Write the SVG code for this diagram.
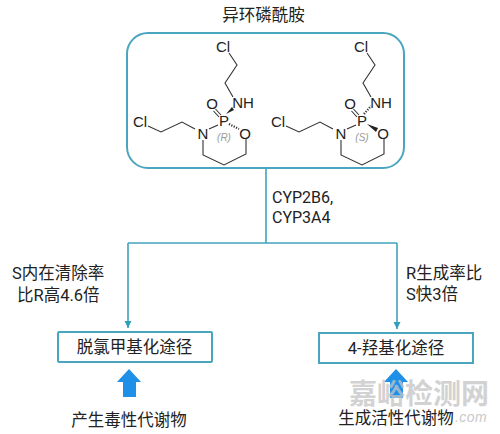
<svg xmlns="http://www.w3.org/2000/svg" width="500" height="434" viewBox="0 0 500 434">
<style>
text{font-family:Roboto,"Noto Sans CJK SC",sans-serif;fill:#222}
.lab{font-size:16.500px}
.cn{font-size:16.500px;text-anchor:middle}
.atom{font-family:"Liberation Sans",Arial,sans-serif;font-size:15px;text-anchor:middle;fill:#222}
.st{font-family:"Liberation Sans",Arial,sans-serif;font-size:10px;font-style:italic;text-anchor:middle;fill:#999}
.bond{fill:none;stroke:#333;stroke-width:1.1}
.box{fill:#fff;stroke:#4aa5bf;stroke-width:2}
.conn{fill:none;stroke:#3fa3bd;stroke-width:1.6}
.wm{fill:#c4c4c4;font-weight:700}
</style>
<defs>
<marker id="ah" markerUnits="userSpaceOnUse" markerWidth="8" markerHeight="8" refX="7" refY="4" orient="auto"><path d="M0 0.500L7 4L0 7.500z" fill="#2f9fbb"/></marker>
<g id="mol">
<path class="bond" d="M229 53L237 65L225 83L233 97"/>
<path class="bond" d="M148 126L161 132L182 122L195 129"/>
<path class="bond" d="M209 129L218 125"/>
<path class="bond" d="M203 140V155L224 165L246 154V139"/>
<path class="bond" d="M215.500 109L221 115M213.500 111L219 117"/>
</g>
</defs>
<text class="cn" x="263.500" y="21">异环磷酰胺</text>
<g id="connectors">
<path class="conn" d="M266 168V243"/>
<path class="conn" d="M128 243H397"/>
<path class="conn" d="M128 243V328" marker-end="url(#ah)"/>
<path class="conn" d="M397 243V329" marker-end="url(#ah)"/>
</g>
<g id="isophosphamide"><rect class="box" x="127" y="33" width="277" height="135" rx="21" ry="21"/></g>
<g id="mol-r">
<use href="#mol"/>
<path d="M226 114L232 107L234 110z" fill="#222"/>
<path class="bond" stroke-dasharray="1.200 1.400" d="M229 124L239 129" style="stroke-width:2.200"/>
<text class="atom" x="223" y="52">Cl</text><text class="atom" x="243" y="108">NH</text><text class="atom" x="212" y="109">O</text>
<text class="atom" x="224" y="126">P</text><text class="atom" x="203" y="139">N</text><text class="atom" x="245" y="139">O</text><text class="atom" x="140" y="127">Cl</text>
<text class="st" x="224" y="141">(R)</text>
</g>
<g id="mol-s">
<use href="#mol" x="138"/>
<path class="bond" stroke-dasharray="1.200 1.400" d="M364 114L371 106" style="stroke-width:2.200"/>
<path d="M367 124L378 128L376 132z" fill="#222"/>
<text class="atom" x="361" y="52">Cl</text><text class="atom" x="381" y="108">NH</text><text class="atom" x="350" y="109">O</text>
<text class="atom" x="362" y="126">P</text><text class="atom" x="341" y="139">N</text><text class="atom" x="383" y="139">O</text><text class="atom" x="278" y="127">Cl</text>
<text class="st" x="362" y="141">(S)</text>
</g>
<text class="lab" x="272" y="203" style="font-size:16px">CYP2B6,</text>
<text class="lab" x="272" y="223" style="font-size:16px">CYP3A4</text>
<text class="lab" x="12" y="279">S内在清除率</text>
<text class="lab" x="17" y="301">比R高4.6倍</text>
<text class="lab" x="406" y="279">R生成率比</text>
<text class="lab" x="406" y="300">S快3倍</text>
<g id="demethyl"><rect class="box" x="58" y="332" width="154" height="30" rx="1"/><text class="cn" x="134.500" y="353">脱氯甲基化途径</text></g>
<g id="hydroxy"><rect class="box" x="319" y="333" width="154" height="30"/><text class="cn" x="396" y="354">4-羟基化途径</text></g>
<path d="M129 369L141 382H136V397H123V382H117z" fill="#1e90e8"/>
<path d="M396 369L408 382H403V398H390V382H384z" fill="#1e90e8"/>
<text class="cn" x="129" y="426">产生毒性代谢物</text>
<text class="wm" x="349" y="404" style="font-size:28px" opacity="0.75">嘉峪检测网</text>
<text x="455" y="422" style="font-size:14px;font-style:italic;letter-spacing:.4px;fill:#c9c9c9;font-family:'Liberation Sans',sans-serif">.com</text>
<text class="cn" x="396" y="424">生成活性代谢物</text>
</svg>
